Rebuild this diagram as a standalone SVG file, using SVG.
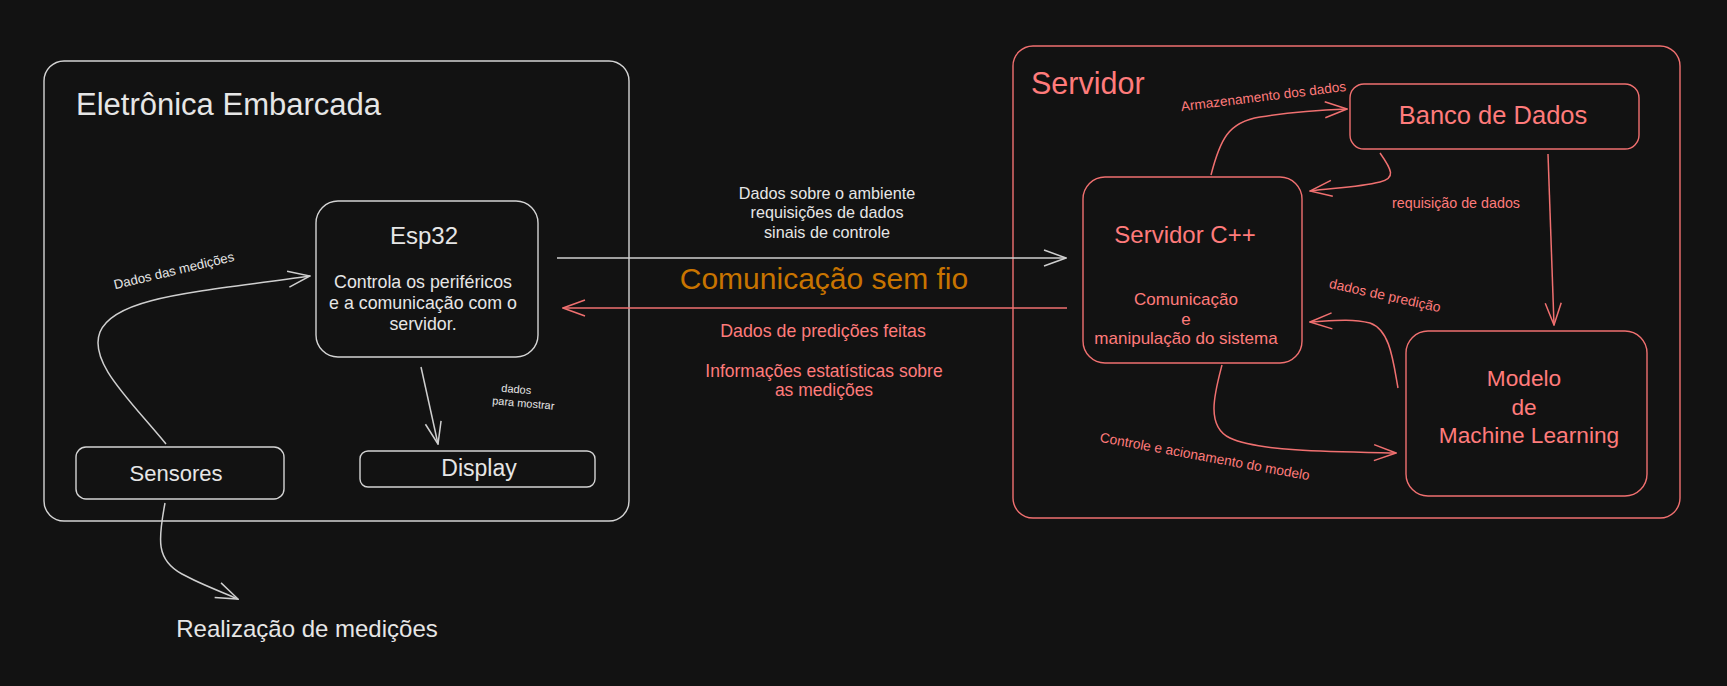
<svg xmlns="http://www.w3.org/2000/svg" width="1727" height="686" viewBox="0 0 1727 686">
  <defs>
    <style>
      .bg { fill: #121212; }
      .boxW { fill: none; stroke: #d4d4d4; stroke-width: 1.4; }
      .boxR { fill: none; stroke: #f07070; stroke-width: 1.4; }
      .lnW { fill: none; stroke: #cfcfcf; stroke-width: 1.5; }
      .lnR { fill: none; stroke: #f07070; stroke-width: 1.5; }
      text { font-family: "Liberation Sans", "Noto Sans", Arial, sans-serif; }
      .tW { fill: #e6e6e6; }
      .tR { fill: #ff7b7b; }
      .tO { fill: #c87400; }
      .c { text-anchor: middle; }
    </style>
    <marker id="ahW" viewBox="0 0 24 20" refX="23" refY="10" markerWidth="24" markerHeight="20" markerUnits="userSpaceOnUse" orient="auto">
      <path d="M1,2 L23,10 L1,18" fill="none" stroke="#cfcfcf" stroke-width="1.5"/>
    </marker>
    <marker id="ahR" viewBox="0 0 24 20" refX="23" refY="10" markerWidth="24" markerHeight="20" markerUnits="userSpaceOnUse" orient="auto">
      <path d="M1,2 L23,10 L1,18" fill="none" stroke="#f07070" stroke-width="1.5"/>
    </marker>
  </defs>

  <rect class="bg" x="0" y="0" width="1727" height="686"/>

  <!-- Left container -->
  <g id="eletronica-embarcada">
    <rect class="boxW" x="44" y="61" width="585" height="460" rx="20"/>
    <text class="tW" x="76" y="115" font-size="31">Eletrônica Embarcada</text>
  </g>

  <g id="esp32">
    <rect class="boxW" x="316" y="201" width="222" height="156" rx="22"/>
    <text class="tW c" x="424" y="244" font-size="24">Esp32</text>
    <text class="tW c" x="423" y="288" font-size="17.8">Controla os periféricos</text>
    <text class="tW c" x="423" y="309" font-size="17.8">e a comunicação com o</text>
    <text class="tW c" x="423" y="330" font-size="17.8">servidor.</text>
  </g>

  <g id="sensores">
    <rect class="boxW" x="76" y="447" width="208" height="52" rx="10"/>
    <text class="tW c" x="176" y="481" font-size="22">Sensores</text>
  </g>

  <g id="display">
    <rect class="boxW" x="360" y="451" width="235" height="36" rx="8"/>
    <text class="tW c" x="479" y="476" font-size="23">Display</text>
  </g>

  <g id="realizacao">
    <text class="tW c" x="307" y="637" font-size="24">Realização de medições</text>
  </g>

  <!-- Right container -->
  <g id="servidor">
    <rect class="boxR" x="1013" y="46" width="667" height="472" rx="20"/>
    <text class="tR" x="1031" y="94" font-size="30.5">Servidor</text>
  </g>

  <g id="banco-de-dados">
    <rect class="boxR" x="1350" y="84" width="289" height="65" rx="14"/>
    <text class="tR c" x="1493" y="124" font-size="25.5">Banco de Dados</text>
  </g>

  <g id="servidor-cpp">
    <rect class="boxR" x="1083" y="177" width="219" height="186" rx="22"/>
    <text class="tR c" x="1185" y="243" font-size="24">Servidor C++</text>
    <text class="tR c" x="1186" y="305" font-size="17">Comunicação</text>
    <text class="tR c" x="1186" y="325" font-size="17">e</text>
    <text class="tR c" x="1186" y="344" font-size="17">manipulação do sistema</text>
  </g>

  <g id="modelo-ml">
    <rect class="boxR" x="1406" y="331" width="241" height="165" rx="22"/>
    <text class="tR c" x="1524" y="386" font-size="22.7">Modelo</text>
    <text class="tR c" x="1524" y="415" font-size="22.7">de</text>
    <text class="tR c" x="1529" y="443" font-size="22.7">Machine Learning</text>
  </g>

  <!-- Connectors -->
  <g id="connectors">
    <!-- Sensores -> Esp32 -->
    <path class="lnW" d="M166,444 C 130,400 88,362 100,332 C 115,296 200,292 310,276" marker-end="url(#ahW)"/>
    <text class="tW c" font-size="13.2" transform="translate(175,275) rotate(-13.4)">Dados das medições</text>

    <!-- Esp32 -> Display -->
    <path class="lnW" d="M421,367 L438,444" marker-end="url(#ahW)"/>
    <text class="tW c" font-size="11" transform="translate(516,393) rotate(5)">dados</text>
    <text class="tW c" font-size="11" transform="translate(523,407) rotate(5)">para mostrar</text>

    <!-- Sensores -> Realização -->
    <path class="lnW" d="M165,503 C 158,540 156,560 182,574 C 200,584 222,592 238,599" marker-end="url(#ahW)"/>

    <!-- Wireless: Esp32 -> Servidor -->
    <path class="lnW" d="M557,258 L1066,258" marker-end="url(#ahW)"/>
    <text class="tW c" x="827" y="199" font-size="16.2">Dados sobre o ambiente</text>
    <text class="tW c" x="827" y="218" font-size="16.2">requisições de dados</text>
    <text class="tW c" x="827" y="238" font-size="16.2">sinais de controle</text>
    <text class="tO c" x="824" y="289" font-size="30">Comunicação sem fio</text>

    <!-- Wireless: Servidor -> Esp32 -->
    <path class="lnR" d="M1067,308 L563,308" marker-end="url(#ahR)"/>
    <text class="tR c" x="823" y="337" font-size="17.8">Dados de predições feitas</text>
    <text class="tR c" x="824" y="377" font-size="17.5">Informações estatísticas sobre</text>
    <text class="tR c" x="824" y="396" font-size="17.5">as medições</text>

    <!-- Servidor C++ -> Banco -->
    <path class="lnR" d="M1211,175 C 1220,140 1228,122 1260,117 C 1290,112 1320,110 1347,109" marker-end="url(#ahR)"/>
    <text class="tR c" font-size="13.6" transform="translate(1264,101) rotate(-7)">Armazenamento dos dados</text>

    <!-- Banco -> Servidor C++ -->
    <path class="lnR" d="M1380,153 C 1392,170 1396,178 1380,182 C 1360,187 1335,188 1310,191" marker-end="url(#ahR)"/>
    <text class="tR c" x="1456" y="208" font-size="14.3">requisição de dados</text>

    <!-- Banco -> Modelo -->
    <path class="lnR" d="M1548,154 L1554,325" marker-end="url(#ahR)"/>

    <!-- Modelo -> Servidor C++ -->
    <path class="lnR" d="M1398,388 C 1393,360 1390,330 1370,323 C 1350,318 1330,321 1310,322" marker-end="url(#ahR)"/>
    <text class="tR c" font-size="13.8" transform="translate(1384,300) rotate(12.4)">dados de predição</text>

    <!-- Servidor C++ -> Modelo -->
    <path class="lnR" d="M1222,365 C 1215,392 1205,426 1230,438 C 1260,452 1340,452 1396,453" marker-end="url(#ahR)"/>
    <text class="tR c" font-size="13.7" transform="translate(1204,461) rotate(10.4)">Controle e acionamento do modelo</text>
  </g>
</svg>
